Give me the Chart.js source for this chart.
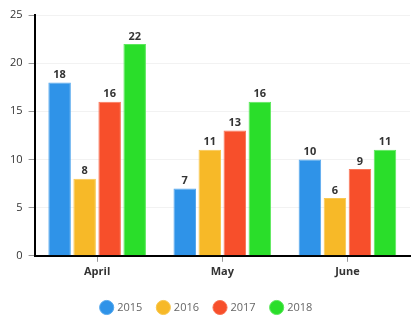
<!DOCTYPE html>
<html>
<head>
<meta charset="utf-8">
<script src="https://cdn.jsdelivr.net/npm/chart.js@4.4.1/dist/chart.umd.min.js"></script>
<style>
  html, body { margin: 0; padding: 0; background: #fff; }
  #wrap { width: 420px; height: 327px; }
</style>
</head>
<body>
<div id="wrap"><canvas id="chart"></canvas></div>
<script>
const months = ["April", "May", "June"];
const years = ["2015", "2016", "2017", "2018"];
const v2015 = [18, 7, 10];
const v2016 = [8, 11, 6];
const v2017 = [16, 13, 9];
const v2018 = [22, 16, 11];
const yTicks = [0, 5, 10, 15, 20, 25];

const fills = ["#2f93e8", "#f7b928", "#f74f2b", "#2ade2a"];
const borders = ["#57a9ee", "#f9c84f", "#fa7659", "#5ce85c"];

// labels above each bar
const valueLabels = {
    id: "valueLabels",
    afterDatasetsDraw(chart) {
        const ctx = chart.ctx;
        ctx.save();
        ctx.font = "bold 11px 'Open Sans'";
        ctx.fillStyle = "#333";
        ctx.textAlign = "center";
        ctx.textBaseline = "bottom";
        chart.data.datasets.forEach((ds, i) => {
            chart.getDatasetMeta(i).data.forEach((bar, j) => {
                ctx.fillText(ds.data[j], bar.x, bar.y - 2);
            });
        });
        ctx.restore();
    }
};

const series = [v2015, v2016, v2017, v2018];

new Chart(document.getElementById("chart"), {
    type: "bar",
    data: {
        labels: months,
        datasets: series.map((d, i) => ({
            label: years[i],
            data: d,
            backgroundColor: fills[i],
            borderColor: borders[i],
            borderWidth: 1
        }))
    },
    options: {
        responsive: true,
        maintainAspectRatio: false,
        animation: false,
        layout: { padding: { left: 4, right: 10, top: 15, bottom: 4 } },
        plugins: {
            legend: {
                position: "bottom",
                labels: {
                    usePointStyle: true,
                    pointStyle: "circle",
                    boxWidth: 10,
                    boxHeight: 10,
                    padding: 16,
                    color: "#666",
                    font: { family: "'Open Sans'", size: 11 }
                }
            },
            tooltip: { enabled: false }
        },
        scales: {
            x: {
                afterFit(axis) {
                    axis.height += 5;
                },
                grid: {
                    display: true,
                    offset: false,
                    drawOnChartArea: false,
                    drawTicks: true,
                    tickLength: 6,
                    color: "#999"
                },
                border: { color: "#000", width: 2 },
                ticks: {
                    color: "#333",
                    font: { family: "'Open Sans'", size: 11, weight: "bold" }
                }
            },
            y: {
                min: 0,
                max: 25,
                afterBuildTicks(axis) {
                    axis.ticks = yTicks.map(v => ({ value: v }));
                },
                grid: {
                    color: "#f2f2f2",
                    tickColor: "#999",
                    tickLength: 6
                },
                border: { color: "#000", width: 2 },
                ticks: {
                    color: "#333",
                    padding: 6,
                    font: { family: "'Open Sans'", size: 11 }
                }
            }
        }
    },
    plugins: [valueLabels]
});
</script>
</body>
</html>
